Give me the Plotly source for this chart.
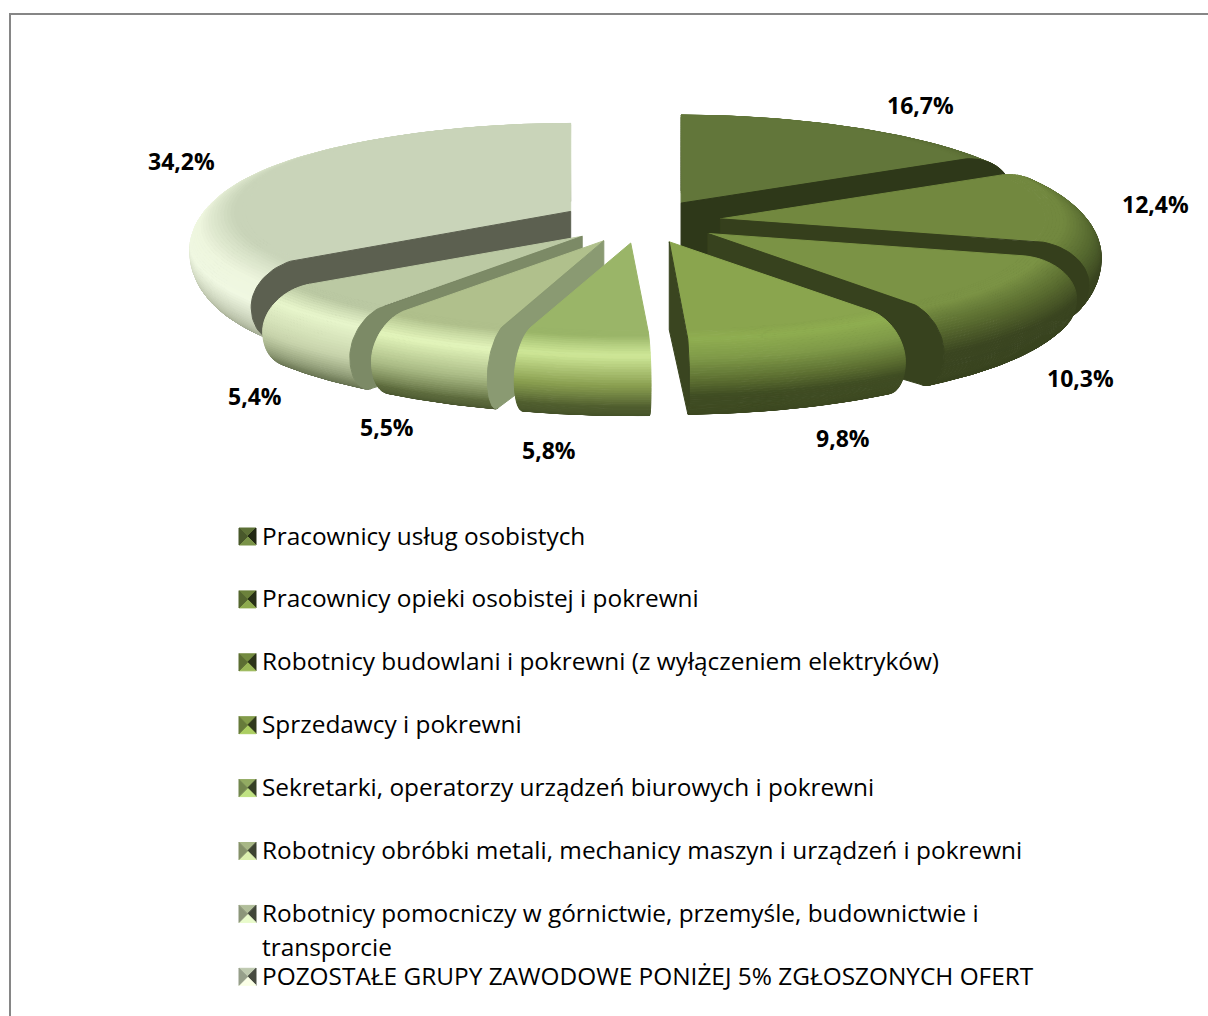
import numpy as np
import plotly.graph_objects as go

# ---------- data ----------
CATEGORIES = [
    "Pracownicy usług osobistych",
    "Pracownicy opieki osobistej i pokrewni",
    "Robotnicy budowlani i pokrewni (z wyłączeniem elektryków)",
    "Sprzedawcy i pokrewni",
    "Sekretarki, operatorzy urządzeń biurowych i pokrewni",
    "Robotnicy obróbki metali, mechanicy maszyn i urządzeń i pokrewni",
    "Robotnicy pomocniczy w górnictwie, przemyśle, budownictwie i<br>transporcie",
    "POZOSTAŁE GRUPY ZAWODOWE PONIŻEJ 5% ZGŁOSZONYCH OFERT",
]
VALUES = [16.7, 12.4, 10.3, 9.8, 5.8, 5.5, 5.4, 34.2]

# ---------- styles ----------
TOP = ["#62763a", "#72883f", "#7b9345", "#8aa54e", "#9ab568", "#b0c08c", "#bbc9a3", "#c9d4b9"]
WALL = ["#2e3819", "#353f1c", "#37421e", "#3a4520", None, "#8a9a72", "#7c8a66", "#5c6050"]
WALL_EDGE = ["end", "end", "end", "end", None, "start", "start", "start"]
RAMPS = [
    [(0, "#62763a"), (.3, "#4a5a2a"), (.6, "#2e3819"), (1, "#2e3819")],
    [(0, "#72883f"), (.1, "#72883f"), (.3, "#55682f"), (.5, "#3a4520"), (1, "#333d1c")],
    [(0, "#7b9345"), (.1, "#7b9345"), (.3, "#5a6c30"), (.5, "#3a4520"), (1, "#37421e")],
    [(0, "#8aa54e"), (.13, "#8fae50"), (.3, "#7f9a48"), (.48, "#5a6c30"), (.6, "#3f4c22"), (1, "#3b4620")],
    [(0, "#9ab568"), (.08, "#9ab568"), (.27, "#cfe898"), (.5, "#8a9f50"), (.7, "#4f5d2e"), (1, "#3f4b25")],
    [(0, "#b0c08c"), (.08, "#b0c08c"), (.27, "#e4f6bc"), (.5, "#a9ba84"), (.72, "#5c6a3c"), (1, "#3f4a28")],
    [(0, "#bbc9a3"), (.08, "#bbc9a3"), (.25, "#e8f6cc"), (.5, "#c8d4ac"), (.75, "#7a8662"), (1, "#4f5a3c")],
    [(0, "#c9d4b9"), (.06, "#c9d4b9"), (.3, "#eef6de"), (.45, "#f0f8e2"), (.75, "#b0b89f"), (1, "#7c8470")],
]
DRAW_ORDER = [0, 7, 1, 6, 2, 5, 3, 4]
LABEL_XY = [(920.5, 105), (1155.5, 204), (1080.5, 378), (842.5, 438), (549, 450), (386.5, 427), (254.5, 396), (181, 161)]
LEGEND_Y0, LEGEND_STEP, LEGEND_WRAP = 535, 62.9, 34
FONT = "Open Sans"

# ---------- geometry of the pie ----------
CX, CY = 641.0, 221.7      # pie centre on the page
EXPLODE_X, EXPLODE_Y = 80.0, 21.5
RX, RY = 325.0, 88.0       # flat top ellipse
BULGE, DEPTH = 56.0, 78.0


def hex2rgb(c):
    return np.array([int(c[i:i + 2], 16) for i in (1, 3, 5)], float)


def ramp_color(ramp, t):
    ts = [p[0] for p in ramp]
    cs = np.array([hex2rgb(p[1]) for p in ramp])
    rgb = [np.interp(t, ts, cs[:, k]) for k in range(3)]
    return "rgb(%d,%d,%d)" % tuple(round(v) for v in rgb)


def profile(t):
    """Rounded rim: radius and drop for t in 0..1 (top edge to bottom edge)."""
    phi = np.pi * t
    if t <= .5:
        return RX + BULGE * np.sin(phi), (DEPTH / 2) * (1 - np.cos(phi))
    return RX + 20 + (BULGE - 20) * np.sin(phi), DEPTH / 2 - (DEPTH / 2) * np.cos(phi)


def rim_curve(apex, a, t):
    r, z = profile(t)
    c = np.cos(a)
    extra = (r - RX) * (RY / RX)
    # the bulge does not rise above the flat top at the back of the pie
    ry = RY + np.where(c > 0, extra * np.sin(a) ** 2, extra)
    return apex[0] + r * np.sin(a), apex[1] - ry * c + z


def add_poly(fig, xs, ys, color):
    fig.add_trace(go.Scatter(x=list(xs), y=list(ys), mode="lines", fill="toself",
                             fillcolor=color, line=dict(color=color, width=1),
                             hoverinfo="skip", showlegend=False))


fig = go.Figure()
shares = np.array(VALUES) / sum(VALUES) * 2 * np.pi
edges = np.concatenate([[0], np.cumsum(shares)])
T_STEPS = np.linspace(1, 0, 49)

for i in DRAW_ORDER:
    a0, a1 = edges[i], edges[i + 1]
    mid = (a0 + a1) / 2
    apex = (CX + EXPLODE_X * np.sin(mid), CY - EXPLODE_Y * np.cos(mid))
    angles = np.linspace(a0, a1, 90)
    # rounded rim, bottom strip first
    for tb, tt in zip(T_STEPS[:-1], T_STEPS[1:]):
        xb, yb = rim_curve(apex, angles, tb)
        xt, yt = rim_curve(apex, angles, tt)
        add_poly(fig, np.r_[xt, xb[::-1], xt[0]], np.r_[yt, yb[::-1], yt[0]],
                 ramp_color(RAMPS[i], (tb + tt) / 2))
    # flat top
    xt, yt = rim_curve(apex, angles, 0)
    add_poly(fig, np.r_[apex[0], xt, apex[0]], np.r_[apex[1], yt, apex[1]], TOP[i])
    # visible cut face
    if WALL[i]:
        a = a1 if WALL_EDGE[i] == "end" else a0
        ts = np.linspace(0, 1, 40)
        pts = [rim_curve(apex, a, t) for t in ts]
        wx = [apex[0]] + [float(p[0]) for p in pts] + [apex[0], apex[0]]
        wy = [apex[1]] + [float(p[1]) for p in pts] + [apex[1] + RY, apex[1]]
        add_poly(fig, wx, wy, WALL[i])

# ---------- data labels ----------
annotations = []
for v, (lx, ly) in zip(VALUES, LABEL_XY):
    annotations.append(dict(x=lx, y=ly, xref="x", yref="y", showarrow=False,
                            text=f"<b>{v:.1f}%</b>".replace(".", ","),
                            font=dict(family=FONT, size=23, color="#000000")))

# ---------- legend ----------
MARK = 8.5
MARK_X = 247.5
for i, name in enumerate(CATEGORIES):
    y = LEGEND_Y0 + i * LEGEND_STEP
    base = hex2rgb(TOP[i])
    mx, my = MARK_X, y + 1.5
    corners = [(mx - MARK, my - MARK), (mx + MARK, my - MARK), (mx + MARK, my + MARK), (mx - MARK, my + MARK)]
    shades = [0.95, 0.35, 1.25, 0.75]   # top, right, bottom, left
    for k, shade in enumerate(shades):
        p, q = corners[k], corners[(k + 1) % 4]
        c = np.clip(base * shade, 0, 255)
        add_poly(fig, [p[0], q[0], mx, p[0]], [p[1], q[1], my, p[1]],
                 "rgb(%d,%d,%d)" % tuple(c))
    for j, line in enumerate(name.split("<br>")):
        annotations.append(dict(x=260, y=y + j * LEGEND_WRAP, xref="x", yref="y", showarrow=False,
                                xanchor="left", yanchor="middle", align="left",
                                text=line, font=dict(family=FONT, size=24.4, color="#000000")))

# ---------- chart border ----------
shapes = [dict(type="rect", xref="x", yref="y", x0=10, y0=14, x1=1300, y1=1200,
               line=dict(color="#868686", width=2), layer="above")]

fig.update_layout(
    width=1208, height=1016, margin=dict(l=0, r=0, t=0, b=0),
    paper_bgcolor="white", plot_bgcolor="white", showlegend=False,
    xaxis=dict(range=[0, 1208], visible=False, fixedrange=True),
    yaxis=dict(range=[1016, 0], visible=False, fixedrange=True),
    annotations=annotations, shapes=shapes,
)
fig.write_html("out.html", config={"displayModeBar": False},
               post_script="document.body.style.margin='0';document.body.style.overflow='hidden';")
